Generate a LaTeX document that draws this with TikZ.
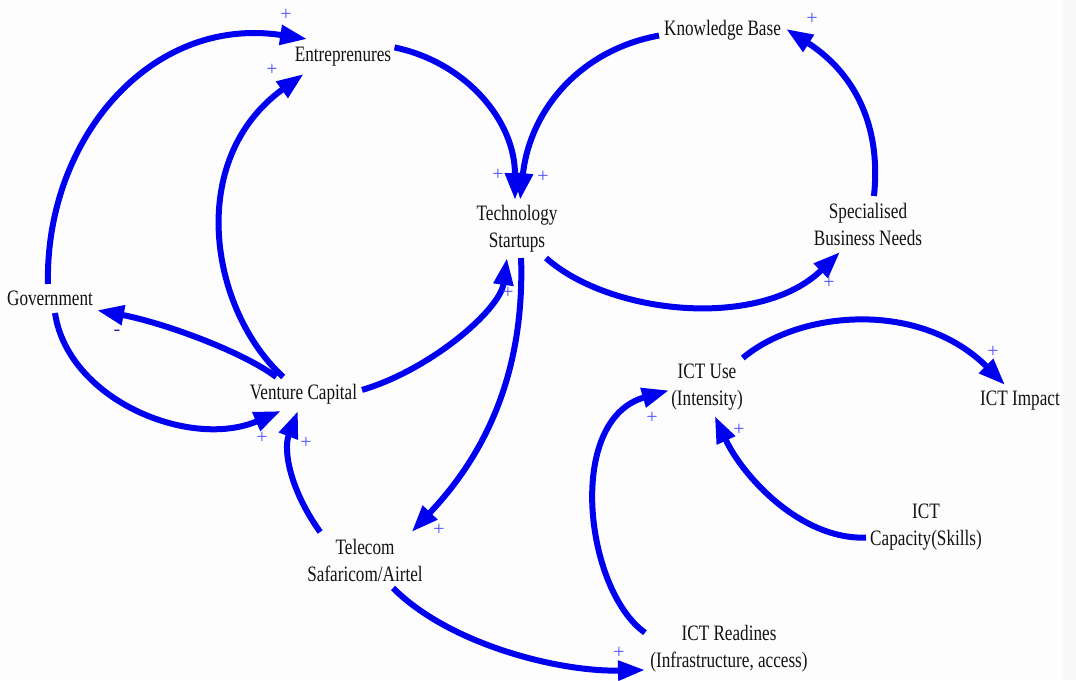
\documentclass[tikz,border=0pt]{standalone}
\usepackage{fontspec}
\setmainfont{Liberation Serif}[FakeStretch=0.78]
\newfontfamily\signfont{Liberation Serif}
\usetikzlibrary{arrows.meta}

\definecolor{linkblue}{RGB}{0,0,240}
\definecolor{signblue}{RGB}{80,80,255}
\definecolor{minusblue}{RGB}{40,40,170}
\definecolor{labelink}{RGB}{18,18,18}
\definecolor{paper}{RGB}{253,253,253}
\definecolor{margin}{RGB}{248,248,248}

\begin{document}
\begin{tikzpicture}[x=1pt, y=-1pt,
  var/.style={inner sep=0pt, outer sep=0pt, align=center, text=labelink,
    font=\fontsize{22}{27}\selectfont},
  link/.style={draw=linkblue, line width=6pt,
    -{Triangle[length=27pt,width=19pt]}},
  sign/.style={text=signblue, inner sep=0pt, font=\signfont\fontsize{20}{20}\selectfont},
  negsign/.style={text=minusblue, inner sep=0pt, font=\signfont\fontsize{20}{20}\selectfont}
]
% canvas
\fill[paper] (0,0) rectangle (1076,680);
\fill[margin] (1063,0) rectangle (1076,680);
\useasboundingbox (0,0) rectangle (1076,680);

% variables
\node[var, minimum width=103pt, minimum height=35pt] (ent)  at (343,56.5) {Entreprenures};
\node[var, minimum width=88pt,  minimum height=58pt] (tech) at (517,229)  {Technology\\Startups};
\node[var, minimum width=127pt, minimum height=30pt] (kb)   at (722.5,30) {Knowledge Base};
\node[var, minimum width=116pt, minimum height=56pt] (spec) at (868,224)  {Specialised\\Business Needs};
\node[var, minimum width=94pt,  minimum height=29pt] (gov)  at (50,298.5) {Government};
\node[var, minimum width=117pt, minimum height=34pt] (vc)   at (303.5,394) {Venture Capital};
\node[var, minimum width=120pt, minimum height=56pt] (tel)  at (365,560)  {Telecom\\Safaricom/Airtel};
\node[var, minimum width=76pt,  minimum height=58pt] (use)  at (707,387)  {ICT Use\\(Intensity)};
\node[var, minimum width=86pt,  minimum height=32pt] (imp)  at (1020,401) {ICT Impact};
\node[var, minimum width=120pt, minimum height=54pt] (cap)  at (926,527)  {ICT\\Capacity(Skills)};
\node[var, minimum width=168pt, minimum height=54pt] (rdy)  at (729,649)  {ICT Readines\\(Infrastructure, access)};

% causal links
\draw[link] (gov.98)   .. controls (45,140)  and (150,15)  .. (ent.154);
\draw[link] (vc.140)   .. controls (210,310) and (185,160) .. (ent.204);
\draw[link] (ent.10)   .. controls (465,62)  and (515,120) .. (tech.94);
\draw[link] (kb.185)   .. controls (580,50)  and (530,110) .. (tech.84);
\draw[link] (tech.315) .. controls (610,315) and (760,330) .. (spec.225);
\draw[link] (spec.78)  .. controls (882,120) and (850,70)  .. (kb.1);
\draw[link] (vc.148)   .. controls (240,350) and (160,322) .. (gov.346);
\draw[link] (gov.289)  .. controls (68,400)  and (190,450) .. (vc.217);
\draw[link] (vc.4)     .. controls (430,370) and (500,310) .. (tech.251);
\draw[link] (tech.278) .. controls (525,380) and (480,460) .. (tel.31);
\draw[link] (tel.148)  .. controls (290,490) and (283,450) .. (vc.252);
\draw[link] (tel.315)  .. controls (450,645) and (560,672) .. (rdy.194);
\draw[link] (rdy.169)  .. controls (585,590) and (565,420) .. (use.185);
\draw[link] (cap.190)  .. controls (800,540) and (742,475) .. (use.285);
\draw[link] (use.39)   .. controls (800,310) and (920,300) .. (imp.133);

% link polarities
\node[sign] (s1)  at (286,15)  {+};
\node[sign] (s2)  at (272,70)  {+};
\node[sign] (s3)  at (498,175) {+};
\node[sign] (s4)  at (543,177) {+};
\node[sign] (s5)  at (829,283) {+};
\node[sign] (s6)  at (812,19)  {+};
\node[negsign] (s7) at (117,333) {-};
\node[sign] (s8)  at (262,438) {+};
\node[sign] (s9)  at (508,293) {+};
\node[sign] (s10) at (439,530) {+};
\node[sign] (s11) at (306,443) {+};
\node[sign] (s12) at (619,653) {+};
\node[sign] (s13) at (652,418) {+};
\node[sign] (s14) at (739,430) {+};
\node[sign] (s15) at (993,352) {+};
\end{tikzpicture}
\end{document}
